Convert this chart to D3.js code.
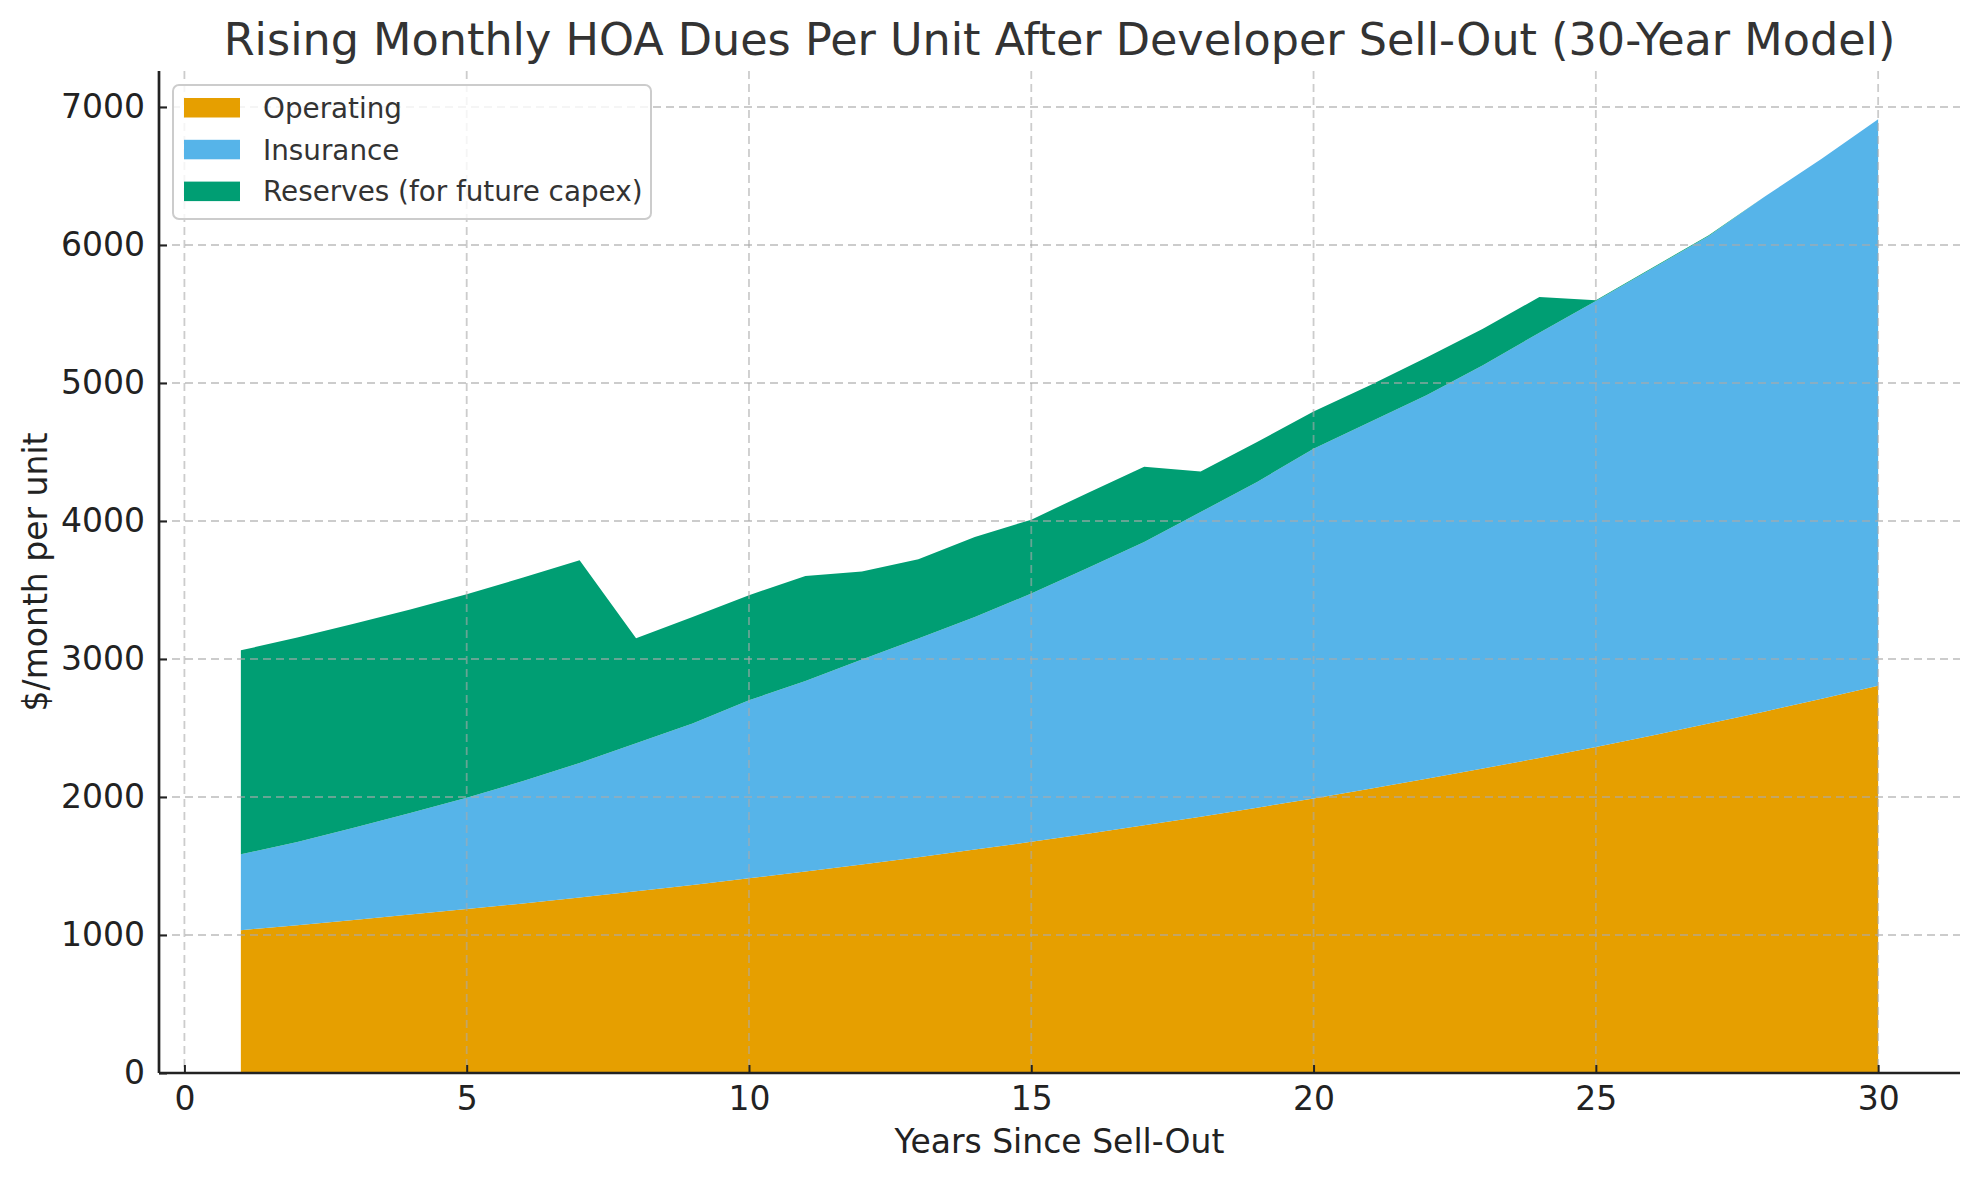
<!DOCTYPE html>
<html lang="en">
<head>
  <meta charset="utf-8">
  <script src="https://d3js.org/d3.v7.min.js"></script>
  <style>
    body { margin: 0; background: #fff; }
    text { font-family: "DejaVu Sans", sans-serif; }
  </style>
</head>
<body>
<script type="text/javascript">
  var w = 1979;
  var h = 1180;

  // years since sell-out
  var years = [1,2,3,4,5,6,7,8,9,10,11,12,13,14,15,16,17,18,19,20,21,22,23,24,25,26,27,28,29,30];

  // $/month per unit
  var operating = [1035,1071,1109,1148,1188,1229,1272,1317,1363,1411,1460,1511,1564,1619,1675,
                   1734,1795,1857,1923,1990,2059,2132,2206,2283,2363,2446,2532,2620,2712,2807];
  var insurance = [550,603,669,736,807,887,974,1072,1169,1290,1381,1485,1584,1685,1799,
                   1926,2053,2208,2360,2534,2658,2779,2922,3082,3231,3384,3533,3733,3914,4104];
  var reserves  = [1478,1481,1478,1474,1474,1474,1469,761,772,761,761,639,574,580,536,
                   543,546,293,290,269,266,273,266,258,5,6,5,0,0,0];

  var seriesNames = ["Operating", "Insurance", "Reserves (for future capex)"];
  var seriesKeys = ["operating", "insurance", "reserves"];
  var colors = ["#E69F00", "#56B4E9", "#009E73"];

  var xTicks = [0, 5, 10, 15, 20, 25, 30];
  var yTicks = [0, 1000, 2000, 3000, 4000, 5000, 6000, 7000];

  var rows = years.map(function(y, i) {
    return {year: y, operating: operating[i], insurance: insurance[i], reserves: reserves[i]};
  });

  // plot box (window.top is taken, so prefix these)
  var pLeft = 159, pRight = 1960, pTop = 71, pBottom = 1073;

  var x = d3.scaleLinear().domain([-0.45, 31.45]).range([pLeft, pRight]);
  var y = d3.scaleLinear().domain([0, 7261]).range([pBottom, pTop]);

  var svg = d3.select("body")
          .append("svg")
          .attr("width", w)
          .attr("height", h);

  // stacked areas
  var stacked = d3.stack().keys(seriesKeys)(rows);

  var area = d3.area()
          .x(function(d) { return x(d.data.year); })
          .y0(function(d) { return y(d[0]); })
          .y1(function(d) { return y(d[1]); });

  svg.selectAll("path.layer")
          .data(stacked)
          .join("path")
          .attr("class", "layer")
          .attr("fill", function(d, i) { return colors[i]; })
          .attr("d", area);

  // dashed grid on top of the areas
  var grid = svg.append("g").attr("class", "grid");
  grid.selectAll("line.gx")
          .data(xTicks)
          .join("line")
          .attr("class", "gx")
          .attr("x1", function(d) { return x(d); })
          .attr("x2", function(d) { return x(d); })
          .attr("y1", pTop)
          .attr("y2", pBottom);
  grid.selectAll("line.gy")
          .data(yTicks)
          .join("line")
          .attr("class", "gy")
          .attr("x1", pLeft)
          .attr("x2", pRight)
          .attr("y1", function(d) { return y(d); })
          .attr("y2", function(d) { return y(d); });
  grid.selectAll("line")
          .attr("stroke", "#aaa")
          .attr("stroke-opacity", 0.6)
          .attr("stroke-width", 1.8)
          .attr("stroke-dasharray", "8,5");

  // axes, ticks pointing inward
  var xAxis = d3.axisBottom(x).tickValues(xTicks).tickSize(-8).tickPadding(14);
  var yAxis = d3.axisLeft(y).tickValues(yTicks).tickSize(-8).tickPadding(14)
          .tickFormat(d3.format("d"));

  var gx = svg.append("g")
          .attr("transform", `translate(0, ${pBottom})`)
          .call(xAxis);
  var gy = svg.append("g")
          .attr("transform", `translate(${pLeft}, 0)`)
          .call(yAxis);

  [gx, gy].forEach(function(g) {
    g.select(".domain").attr("stroke", "#222").attr("stroke-width", 2.7);
    g.selectAll(".tick line").attr("stroke", "#222").attr("stroke-width", 2);
    g.selectAll(".tick text")
            .attr("fill", "#222")
            .style("font-size", "33px")
            .style("font-family", "DejaVu Sans");
  });
  gx.select(".domain").attr("d", `M${pLeft},0H${pRight}`);
  gy.select(".domain").attr("d", `M0,${pTop}V${pBottom}`);

  // title and labels
  svg.append("text")
          .attr("x", (pLeft + pRight) / 2)
          .attr("y", 55)
          .attr("text-anchor", "middle")
          .attr("fill", "#333")
          .style("font-size", "44.5px")
          .text("Rising Monthly HOA Dues Per Unit After Developer Sell-Out (30-Year Model)");

  svg.append("text")
          .attr("x", (pLeft + pRight) / 2)
          .attr("y", 1153)
          .attr("text-anchor", "middle")
          .attr("fill", "#222")
          .style("font-size", "33px")
          .text("Years Since Sell-Out");

  svg.append("text")
          .attr("transform", `translate(47, ${(pTop + pBottom) / 2}) rotate(-90)`)
          .attr("text-anchor", "middle")
          .attr("fill", "#222")
          .style("font-size", "33px")
          .text("$/month per unit");

  // legend
  var legend = svg.append("g").attr("transform", "translate(173, 85)");
  legend.append("rect")
          .attr("width", 478)
          .attr("height", 134)
          .attr("rx", 6)
          .attr("fill", "#fff")
          .attr("fill-opacity", 0.8)
          .attr("stroke", "#ccc")
          .attr("stroke-width", 2);

  var items = legend.selectAll("g.item")
          .data(seriesNames)
          .join("g")
          .attr("class", "item")
          .attr("transform", function(d, i) { return `translate(0, ${23 + i * 41.8})`; });
  items.append("rect")
          .attr("x", 11)
          .attr("y", -10)
          .attr("width", 56)
          .attr("height", 19.5)
          .attr("fill", function(d, i) { return colors[i]; });
  items.append("text")
          .attr("x", 90)
          .attr("y", 0)
          .attr("dy", "0.35em")
          .attr("fill", "#333")
          .style("font-size", "27.8px")
          .text(function(d) { return d; });
</script>
</body>
</html>
